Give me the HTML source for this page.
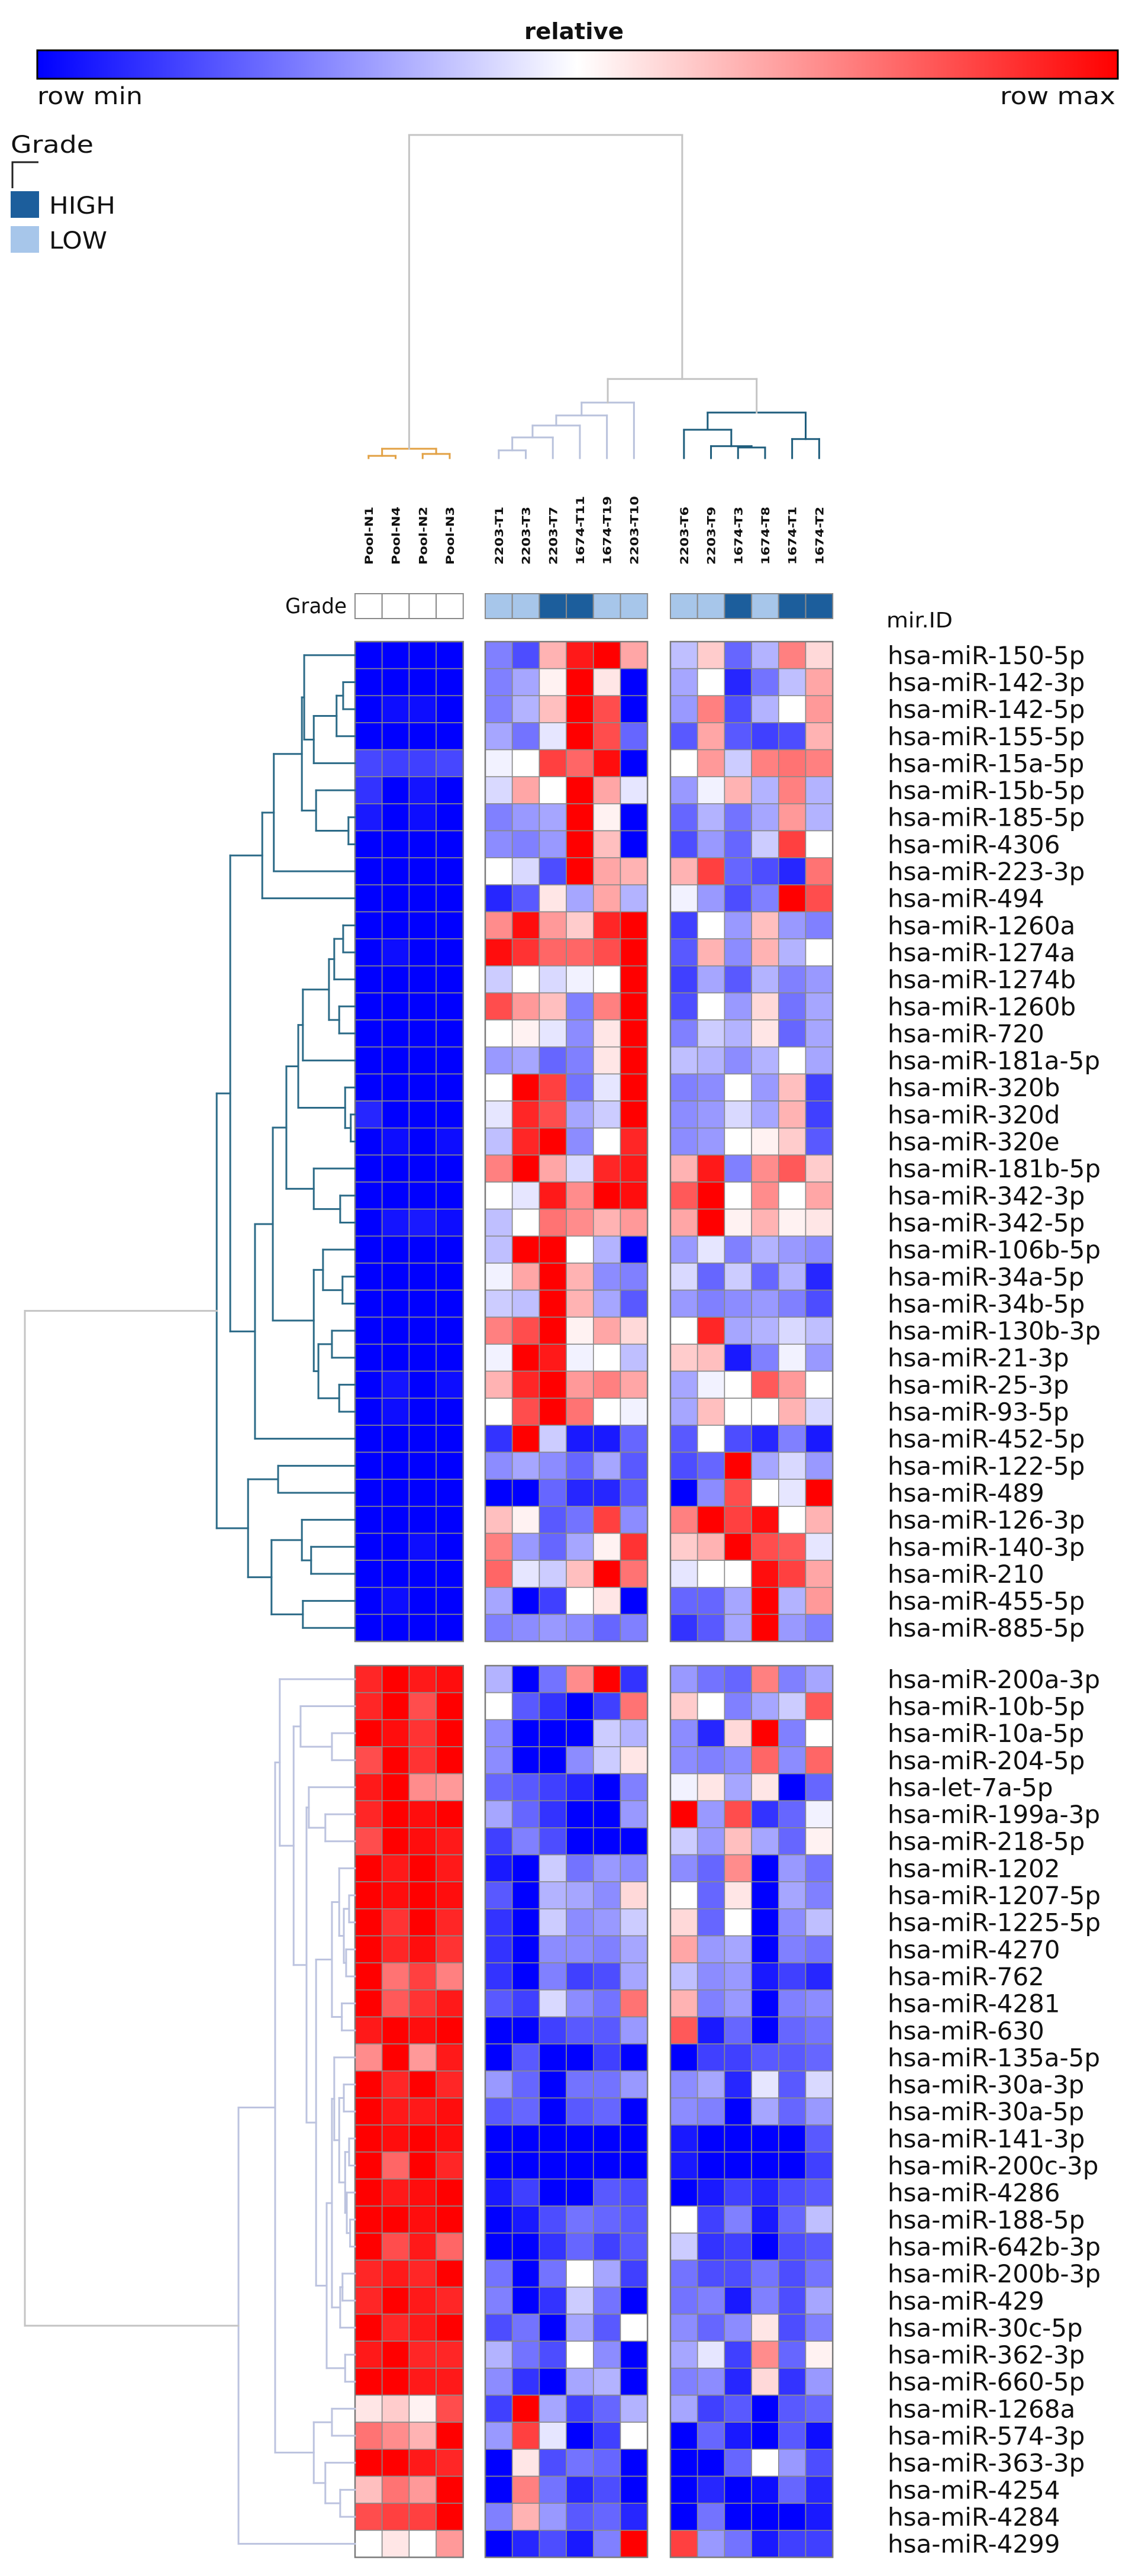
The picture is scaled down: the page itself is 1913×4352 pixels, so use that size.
<!DOCTYPE html>
<html><head><meta charset="utf-8">
<style>
html,body{margin:0;padding:0;background:#fff;}
svg{display:block;}
text{font-family:"DejaVu Sans","Liberation Sans",sans-serif;fill:#111;}
</style></head>
<body>
<svg id="chart" width="1913" height="4352" viewBox="0 0 1913 4352" xmlns="http://www.w3.org/2000/svg">
<defs>
<linearGradient id="cbar" x1="0" x2="1" y1="0" y2="0">
<stop offset="0" stop-color="#0000ff"/><stop offset="0.5" stop-color="#ffffff"/><stop offset="1" stop-color="#ff0000"/>
</linearGradient>
</defs>
<g>
<text x="970" y="66" text-anchor="middle" font-size="38" font-weight="bold" textLength="168" lengthAdjust="spacingAndGlyphs">relative</text>
<rect x="63" y="85" width="1826" height="48" fill="url(#cbar)" stroke="#000" stroke-width="3"/>
<text x="63" y="176" font-size="40" textLength="178" lengthAdjust="spacingAndGlyphs">row min</text>
<text x="1885" y="176" font-size="40" text-anchor="end" textLength="195" lengthAdjust="spacingAndGlyphs">row max</text>
</g>
<g>
<text x="18" y="258" font-size="40" textLength="140" lengthAdjust="spacingAndGlyphs">Grade</text>
<path d="M21 318 V274 H65" fill="none" stroke="#222" stroke-width="3"/>
<rect x="18" y="323" width="48" height="45" fill="#1c5e9c"/>
<text x="83" y="361" font-size="40" textLength="112" lengthAdjust="spacingAndGlyphs">HIGH</text>
<rect x="18" y="382" width="48" height="45" fill="#a7c6ea"/>
<text x="83" y="420" font-size="40" textLength="98" lengthAdjust="spacingAndGlyphs">LOW</text>
</g>
<text x="586" y="1036" font-size="36" text-anchor="end" textLength="104" lengthAdjust="spacingAndGlyphs">Grade</text>
<text x="1498" y="1060" font-size="36" textLength="112" lengthAdjust="spacingAndGlyphs">mir.ID</text>
<g id="cells"></g>
<g id="grades"></g>
<g id="collabels"></g>
<g id="rowlabels"></g>
<g id="coltree"></g>
<g id="rowtree"></g>
</svg>
<script>
// ---- data ----
const columns = ["Pool-N1","Pool-N4","Pool-N2","Pool-N3","2203-T1","2203-T3","2203-T7","1674-T11","1674-T19","2203-T10","2203-T6","2203-T9","1674-T3","1674-T8","1674-T1","1674-T2"];
const columnGroups = [0,0,0,0,1,1,1,1,1,1,2,2,2,2,2,2];
const grades = ["","","","","LOW","LOW","HIGH","HIGH","LOW","LOW","LOW","LOW","HIGH","LOW","HIGH","HIGH"];
const rowsBlock1 = ["hsa-miR-150-5p","hsa-miR-142-3p","hsa-miR-142-5p","hsa-miR-155-5p","hsa-miR-15a-5p","hsa-miR-15b-5p","hsa-miR-185-5p","hsa-miR-4306","hsa-miR-223-3p","hsa-miR-494","hsa-miR-1260a","hsa-miR-1274a","hsa-miR-1274b","hsa-miR-1260b","hsa-miR-720","hsa-miR-181a-5p","hsa-miR-320b","hsa-miR-320d","hsa-miR-320e","hsa-miR-181b-5p","hsa-miR-342-3p","hsa-miR-342-5p","hsa-miR-106b-5p","hsa-miR-34a-5p","hsa-miR-34b-5p","hsa-miR-130b-3p","hsa-miR-21-3p","hsa-miR-25-3p","hsa-miR-93-5p","hsa-miR-452-5p","hsa-miR-122-5p","hsa-miR-489","hsa-miR-126-3p","hsa-miR-140-3p","hsa-miR-210","hsa-miR-455-5p","hsa-miR-885-5p"];
const rowsBlock2 = ["hsa-miR-200a-3p","hsa-miR-10b-5p","hsa-miR-10a-5p","hsa-miR-204-5p","hsa-let-7a-5p","hsa-miR-199a-3p","hsa-miR-218-5p","hsa-miR-1202","hsa-miR-1207-5p","hsa-miR-1225-5p","hsa-miR-4270","hsa-miR-762","hsa-miR-4281","hsa-miR-630","hsa-miR-135a-5p","hsa-miR-30a-3p","hsa-miR-30a-5p","hsa-miR-141-3p","hsa-miR-200c-3p","hsa-miR-4286","hsa-miR-188-5p","hsa-miR-642b-3p","hsa-miR-200b-3p","hsa-miR-429","hsa-miR-30c-5p","hsa-miR-362-3p","hsa-miR-660-5p","hsa-miR-1268a","hsa-miR-574-3p","hsa-miR-363-3p","hsa-miR-4254","hsa-miR-4284","hsa-miR-4299"];
const valuesBlock1 = [
[-1,-1,-1,-1, -0.5,-0.7,0.3,0.9,1,0.35, -0.25,0.2,-0.6,-0.3,0.5,0.15],
[-1,-1,-1,-1, -0.5,-0.35,0.05,1,0.1,-1, -0.35,0,-0.85,-0.55,-0.25,0.35],
[-1,-0.95,-0.95,-1, -0.5,-0.3,0.25,1,0.7,-1, -0.4,0.5,-0.7,-0.3,0,0.4],
[-1,-1,-1,-1, -0.35,-0.55,-0.1,1,0.7,-0.6, -0.65,0.35,-0.65,-0.75,-0.7,0.3],
[-0.72,-0.75,-0.75,-0.72, -0.05,0,0.75,0.6,0.95,-1, 0,0.4,-0.2,0.5,0.55,0.5],
[-0.8,-1,-0.92,-1, -0.15,0.35,0,1,0.35,-0.1, -0.4,-0.05,0.3,-0.3,0.5,-0.3],
[-0.9,-1,-0.95,-1, -0.5,-0.4,-0.35,1,0.05,-1, -0.6,-0.3,-0.55,-0.35,0.4,-0.3],
[-1,-1,-1,-1, -0.45,-0.5,-0.4,1,0.25,-1, -0.7,-0.4,-0.6,-0.2,0.75,0],
[-1,-1,-1,-1, 0,-0.15,-0.7,1,0.35,0.3, 0.3,0.75,-0.6,-0.7,-0.85,0.55],
[-1,-1,-1,-1, -0.85,-0.65,0.1,-0.35,0.35,-0.3, -0.05,-0.4,-0.7,-0.5,1,0.7],
[-1,-1,-1,-1, 0.45,0.95,0.4,0.2,0.85,1, -0.75,0,-0.4,0.25,-0.4,-0.5],
[-1,-0.95,-1,-1, 0.95,0.8,0.6,0.6,0.7,1, -0.65,0.3,-0.45,0.3,-0.3,0],
[-1,-1,-1,-1, -0.2,0,-0.15,-0.05,0,1, -0.75,-0.35,-0.65,-0.3,-0.5,-0.4],
[-1,-1,-1,-1, 0.7,0.4,0.25,-0.5,0.5,1, -0.7,0,-0.4,0.15,-0.55,-0.35],
[-1,-1,-1,-1, 0,0.05,-0.1,-0.45,0.1,1, -0.5,-0.2,-0.3,0.1,-0.6,-0.35],
[-1,-1,-1,-1, -0.4,-0.35,-0.6,-0.5,0.1,1, -0.25,-0.3,-0.45,-0.3,0,-0.35],
[-1,-1,-1,-1, 0,1,0.75,-0.55,-0.1,1, -0.5,-0.45,0,-0.4,0.25,-0.75],
[-0.85,-1,-1,-1, -0.1,0.85,0.7,-0.35,-0.2,1, -0.45,-0.4,-0.15,-0.35,0.3,-0.75],
[-1,-0.95,-1,-0.95, -0.25,0.85,1,-0.45,0,0.85, -0.45,-0.4,0,0.05,0.2,-0.65],
[-1,-1,-1,-1, 0.5,1,0.35,-0.15,0.85,0.9, 0.3,0.9,-0.5,0.45,0.65,0.2],
[-1,-1,-1,-1, 0,-0.1,0.9,0.45,1,0.95, 0.65,1,0,0.45,0,0.35],
[-1,-0.92,-0.9,-0.95, -0.25,0,0.55,0.45,0.3,0.4, 0.35,1,0.05,0.3,0.05,0.1],
[-1,-1,-1,-1, -0.25,1,1,0,-0.3,-1, -0.4,-0.1,-0.5,-0.3,-0.4,-0.45],
[-1,-1,-1,-1, -0.05,0.35,1,0.3,-0.45,-0.5, -0.15,-0.6,-0.2,-0.6,-0.3,-0.85],
[-1,-1,-1,-1, -0.2,-0.25,1,0.3,-0.35,-0.65, -0.4,-0.5,-0.45,-0.4,-0.5,-0.7],
[-1,-1,-1,-1, 0.5,0.7,1,0.05,0.35,0.15, 0,0.85,-0.35,-0.3,-0.15,-0.25],
[-1,-1,-1,-1, -0.05,1,0.9,-0.05,0,-0.25, 0.2,0.25,-0.9,-0.5,-0.05,-0.4],
[-1,-0.92,-1,-0.95, 0.3,0.85,1,0.4,0.5,0.35, -0.35,-0.05,0,0.65,0.4,0],
[-1,-0.95,-1,-1, 0,0.7,1,0.55,0,-0.05, -0.35,0.25,0,0,0.3,-0.15],
[-1,-1,-1,-1, -0.8,1,-0.2,-0.9,-0.9,-0.6, -0.65,0,-0.7,-0.85,-0.5,-0.9],
[-1,-1,-1,-1, -0.45,-0.35,-0.45,-0.6,-0.35,-0.65, -0.7,-0.6,1,-0.35,-0.15,-0.4],
[-1,-1,-1,-1, -1,-1,-0.6,-0.85,-0.85,-0.65, -1,-0.45,0.7,0,-0.1,1],
[-1,-1,-1,-1, 0.25,0.05,-0.65,-0.55,0.75,-0.45, 0.5,1,0.75,0.95,0,0.3],
[-1,-1,-0.95,-1, 0.5,-0.4,-0.6,-0.35,0.05,0.8, 0.2,0.3,1,0.7,0.65,-0.1],
[-1,-1,-1,-1, 0.6,-0.1,-0.2,0.25,1,0.55, -0.1,0,0,0.95,0.75,0.35],
[-1,-0.95,-1,-1, -0.35,-1,-0.75,0,0.1,-1, -0.6,-0.6,-0.35,1,-0.3,0.4],
[-1,-1,-1,-1, -0.5,-0.45,-0.4,-0.45,-0.6,-0.5, -0.8,-0.65,-0.35,1,-0.4,-0.5]
];
const valuesBlock2 = [
[0.85,1,0.9,0.95, -0.3,-1,-0.55,0.45,1,-0.8, -0.4,-0.55,-0.6,0.5,-0.5,-0.35],
[0.85,1,0.7,1, 0,-0.65,-0.8,-1,-0.75,0.55, 0.2,0,-0.5,-0.35,-0.2,0.65],
[1,0.95,0.8,1, -0.45,-1,-1,-1,-0.2,-0.3, -0.45,-0.85,0.15,1,-0.5,0],
[0.7,1,0.8,1, -0.45,-1,-1,-0.45,-0.2,0.1, -0.45,-0.5,-0.45,0.6,-0.45,0.6],
[0.9,1,0.45,0.4, -0.6,-0.65,-0.75,-0.85,-1,-0.5, -0.05,0.1,-0.35,0.1,-1,-0.6],
[0.85,1,0.95,1, -0.35,-0.6,-0.8,-1,-1,-0.4, 1,-0.4,0.7,-0.8,-0.6,-0.05],
[0.7,1,0.95,0.9, -0.75,-0.5,-0.7,-1,-1,-1, -0.2,-0.4,0.25,-0.35,-0.6,0.05],
[1,0.9,1,0.9, -0.9,-1,-0.2,-0.55,-0.4,-0.45, -0.45,-0.6,0.45,-1,-0.4,-0.55],
[1,0.95,1,0.95, -0.65,-1,-0.3,-0.35,-0.45,0.15, 0,-0.6,0.1,-1,-0.35,-0.5],
[1,0.8,1,0.85, -0.8,-1,-0.2,-0.45,-0.4,-0.2, 0.15,-0.6,0,-1,-0.45,-0.25],
[1,0.85,0.95,0.8, -0.8,-1,-0.45,-0.45,-0.5,-0.35, 0.35,-0.4,-0.35,-1,-0.5,-0.55],
[1,0.55,0.75,0.5, -0.8,-1,-0.5,-0.75,-0.7,-0.35, -0.25,-0.45,-0.4,-0.9,-0.75,-0.85],
[1,0.65,0.8,0.9, -0.65,-0.75,-0.15,-0.45,-0.55,0.55, 0.3,-0.5,-0.4,-1,-0.5,-0.45],
[0.9,1,0.95,1, -1,-1,-0.75,-0.65,-0.65,-0.4, 0.65,-0.9,-0.6,-1,-0.6,-0.55],
[0.45,1,0.4,0.9, -1,-0.65,-1,-1,-0.75,-1, -1,-0.75,-0.75,-0.65,-0.65,-0.6],
[1,0.85,1,0.85, -0.4,-0.6,-1,-0.55,-0.55,-0.4, -0.45,-0.35,-0.85,-0.1,-0.65,-0.15],
[1,0.9,0.9,0.95, -0.65,-0.6,-1,-0.65,-0.6,-1, -0.45,-0.5,-1,-0.35,-0.6,-0.4],
[1,0.95,1,0.95, -1,-1,-1,-1,-1,-1, -0.9,-1,-1,-1,-1,-0.65],
[1,0.6,1,0.85, -1,-1,-1,-1,-1,-1, -0.9,-1,-1,-1,-1,-0.75],
[1,0.9,0.95,1, -0.9,-0.75,-1,-1,-0.65,-0.7, -1,-0.9,-0.75,-0.85,-0.7,-0.65],
[1,1,0.95,1, -1,-0.9,-0.7,-0.55,-0.6,-0.65, 0,-0.75,-0.5,-0.9,-0.6,-0.25],
[1,0.7,0.9,0.6, -1,-1,-0.8,-0.6,-0.75,-0.65, -0.2,-0.8,-0.75,-1,-0.7,-0.65],
[0.85,0.9,0.85,1, -0.55,-1,-0.55,0,-0.35,-0.75, -0.55,-0.7,-0.7,-0.55,-0.7,-0.55],
[0.85,1,0.9,0.85, -0.5,-1,-0.8,-0.2,-0.55,-1, -0.55,-0.5,-0.9,-0.5,-0.7,-0.35],
[1,0.85,0.9,1, -0.7,-0.55,-1,-0.35,-0.65,0, -0.45,-0.6,-0.45,0.1,-0.7,-0.5],
[0.9,1,0.85,0.85, -0.3,-0.55,-0.7,0,-0.45,-1, -0.35,-0.1,-0.75,0.45,-0.6,0.05],
[1,1,0.9,0.9, -0.45,-0.8,-1,-0.35,-0.3,-1, -0.5,-0.45,-0.85,0.15,-0.8,-0.4],
[0.1,0.2,0.05,0.7, -0.75,1,-0.35,-0.75,-0.6,-0.3, -0.35,-0.75,-0.65,-1,-0.65,-0.6],
[0.55,0.45,0.3,1, -0.4,0.75,-0.1,-1,-0.75,0, -1,-0.6,-0.9,-1,-0.65,-0.95],
[1,1,0.9,0.85, -1,0.1,-0.7,-0.55,-0.6,-1, -1,-1,-0.6,0,-0.4,-0.7],
[0.25,0.55,0.4,1, -1,0.5,-0.55,-0.85,-0.7,-1, -1,-0.85,-1,-0.95,-0.6,-0.85],
[0.7,0.75,0.75,1, -0.5,0.3,-0.4,-0.65,-0.6,-0.85, -1,-0.55,-1,-1,-1,-0.9],
[0,0.1,0,0.4, -1,-0.85,-0.7,-0.9,-0.5,1, 0.75,-0.4,-0.55,-0.9,-0.75,-0.75]
];
// column dendrogram merges: [left, right, distance]; leaves 0..15, nodes 16+
const colMerges = [[0,1,0.007],[2,3,0.013],[16,17,0.029],[4,5,0.024],[19,6,0.064],[20,7,0.101],[21,8,0.132],[22,9,0.172],[12,13,0.033],[11,24,0.037],[10,25,0.088],[14,15,0.059],[26,27,0.141],[23,28,0.245],[18,29,1.0]];
// row dendrogram trees: [distance, left, right]; leaves are global row indices
const rowTreeBlock1 = [0.419,
 [0.378,
  [0.281,[0.246,[0.161,[0.154,0,[0.125,[0.056,[0.036,1,2],3],4]],[0.118,5,[0.020,6,7]]],8],9],
  [0.303,[0.249,
    [0.208,[0.172,[0.158,[0.079,[0.063,[0.036,10,11],12],[0.048,13,14]],15],[0.030,16,[0.013,17,18]]],[0.125,19,[0.045,20,21]]],
    [0.125,[0.097,22,[0.038,23,24]],[0.111,[0.070,25,26],[0.048,27,28]]]],29]],
 [0.324,[0.233,30,31],[0.253,[0.161,32,[0.133,33,34]],[0.158,35,36]]]];
const rowTreeBlock2 = [0.353,
 [0.242,
  [0.228,37,[0.186,[0.165,38,[0.070,39,40]],
    [0.147,[0.140,41,[0.090,42,43]],
     [0.118,[0.070,[0.048,44,[0.034,[0.018,45,46],[0.027,47,48]]],[0.040,49,50]],
      [0.086,[0.070,[0.063,51,[0.048,[0.034,52,53],[0.030,[0.018,54,55],[0.025,56,[0.015,57,58]]]]],[0.045,[0.038,59,60],61]],[0.030,62,63]]]]]],
  [0.125,[0.070,64,65],[0.090,66,[0.045,67,68]]]],
 69];
const rowTreeRootDistance = 1.0;

// ---- layout ----
const NS="http://www.w3.org/2000/svg";
const cellW=45.7, rowH=45.65;
const groupLeft=[600,820,1133];
const block1Top=1084, block2Top=2814;
const colX = i => groupLeft[columnGroups[i]] + (i - columnGroups.indexOf(columnGroups[i]))*cellW;
const rowY = r => r<rowsBlock1.length ? block1Top + r*rowH : block2Top + (r-rowsBlock1.length)*rowH;
const rowXd = d => 600 - d*558;
const colYd = d => 774 - d*546;
function color(v){
  v=Math.max(-1,Math.min(1,v));
  if(v<0){const c=Math.round(255*(1+v));return `rgb(${c},${c},255)`;}
  const c=Math.round(255*(1-v));return `rgb(255,${c},${c})`;
}
function mk(tag,attrs,parent){const e=document.createElementNS(NS,tag);for(const k in attrs)e.setAttribute(k,attrs[k]);parent.appendChild(e);return e;}

const cellsG=document.getElementById('cells');
const allRows=rowsBlock1.concat(rowsBlock2);
const allVals=valuesBlock1.concat(valuesBlock2);
allVals.forEach((row,r)=>{
  row.forEach((v,c)=>{
    const el=mk('rect',{x:colX(c),y:rowY(r),width:cellW,height:rowH,fill:color(v),stroke:'#8a8a8a','stroke-width':1.6},cellsG);
    
    
  });
});
// group outlines
[[0,0],[1,0],[2,0],[0,1],[1,1],[2,1]].forEach(([g,b])=>{
  const n=columnGroups.filter(x=>x===g).length;
  const top=b?block2Top:block1Top, cnt=b?rowsBlock2.length:rowsBlock1.length;
  const el=mk('rect',{x:groupLeft[g],y:top,width:n*cellW,height:cnt*rowH,fill:'none',stroke:'#7a7a7a','stroke-width':2.5},cellsG);
  
  
});
// grade row
const gradesG=document.getElementById('grades');
grades.forEach((g,c)=>{
  const el=mk('rect',{x:colX(c),y:1003,width:cellW,height:42,fill:g==='HIGH'?'#1c5e9c':(g==='LOW'?'#a7c6ea':'#ffffff'),stroke:'#8a8a8a','stroke-width':2},gradesG);
  
  
});
// column labels
const clG=document.getElementById('collabels');
columns.forEach((name,c)=>{
  const x=colX(c)+cellW/2+7, y=954;
  const len = name.length>=8 ? 116 : 98;
  const el=mk('text',{x:x,y:y,transform:`rotate(-90 ${x} ${y})`,'font-size':19,'font-weight':'bold',textLength:len,lengthAdjust:'spacingAndGlyphs'},clG);
  el.textContent=name;
  
  
});
// row labels
const rlG=document.getElementById('rowlabels');
allRows.forEach((name,r)=>{
  const el=mk('text',{x:1500,y:rowY(r)+rowH/2+15,'font-size':42},rlG);
  el.textContent=name;
  
  
});
// row dendrogram
const rtG=document.getElementById('rowtree');
function line(x1,y1,x2,y2,col,g){
  const el=mk('line',{x1:x1,y1:y1,x2:x2,y2:y2,stroke:col,'stroke-width':3,'stroke-linecap':'square'},g);
  
  
}
function drawRowTree(node,col){
  if(typeof node==='number') return {y:rowY(node)+rowH/2,d:0};
  const a=drawRowTree(node[1],col), b=drawRowTree(node[2],col);
  const x=rowXd(node[0]);
  line(x,a.y,x,b.y,col,rtG);
  line(x,a.y,rowXd(a.d),a.y,col,rtG);
  line(x,b.y,rowXd(b.d),b.y,col,rtG);
  return {y:(a.y+b.y)/2,d:node[0]};
}
const t1=drawRowTree(rowTreeBlock1,'#2b6a87');
const t2=drawRowTree(rowTreeBlock2,'#bcc3df');
const rx=rowXd(rowTreeRootDistance);
line(rx,t1.y,rx,t2.y,'#c4c4c4',rtG);
line(rx,t1.y,rowXd(t1.d),t1.y,'#c4c4c4',rtG);
line(rx,t2.y,rowXd(t2.d),t2.y,'#c4c4c4',rtG);
// column dendrogram
const ctG=document.getElementById('coltree');
const nodes=[];
columns.forEach((c,i)=>nodes.push({x:colX(i)+cellW/2,d:0,g:columnGroups[i]}));
const groupCol=['#e2a144','#b9c2dc','#1e5d7c'];
colMerges.forEach(([a,b,d])=>{
  const A=nodes[a],B=nodes[b];
  const col = (A.g===B.g) ? groupCol[A.g] : '#c4c4c4';
  const y=colYd(d);
  line(A.x,y,B.x,y,col,ctG);
  line(A.x,y,A.x,colYd(A.d),col,ctG);
  line(B.x,y,B.x,colYd(B.d),col,ctG);
  nodes.push({x:(A.x+B.x)/2,d:d,g:(A.g===B.g)?A.g:-1});
});
</script>
</body></html>
